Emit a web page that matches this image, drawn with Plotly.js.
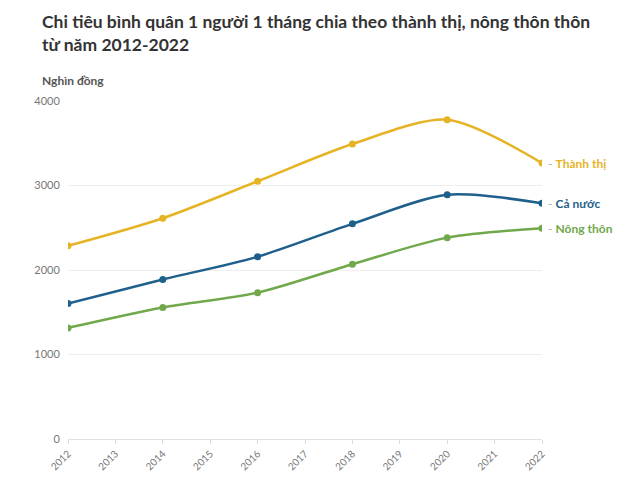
<!DOCTYPE html>
<html>
<head>
<meta charset="utf-8">
<script src="https://cdn.plot.ly/plotly-3.0.1.min.js"></script>
<style>
  body { margin: 0; background: #fff; }
  #chart { width: 642px; height: 489px; }
</style>
</head>
<body>
<div id="chart"></div>
<script>
const years = [2012, 2014, 2016, 2018, 2020, 2022];
const thanhThi = [2286, 2613, 3050, 3491, 3778, 3265];
const caNuoc = [1603, 1888, 2157, 2546, 2890, 2789];
const nongThon = [1315, 1557, 1732, 2068, 2383, 2494];
const seriesNames = ["Thành thị", "Cả nước", "Nông thôn"];
const seriesColors = ["#e6b325", "#1f5f8b", "#70a84b"];
const tickYears = [2012, 2013, 2014, 2015, 2016, 2017, 2018, 2019, 2020, 2021, 2022];

const font = "Lato, 'Noto Sans', sans-serif";
const titleFont = "'Liberation Sans Narrow', Lato, sans-serif";
const allValues = [thanhThi, caNuoc, nongThon];

// plot area runs from y=101px to y=439px, so paper units are per 338px
function paperY(px) { return (439 - px) / 338; }

let data = allValues.map(function (vals, i) {
    return {
        x: years,
        y: vals,
        name: seriesNames[i],
        type: "scatter",
        mode: "lines+markers",
        line: { color: seriesColors[i], width: 2.5, shape: "spline", smoothing: 0.8 },
        marker: { color: seriesColors[i], size: 7 },
        hoverinfo: "x+y"
    };
});

let annotations = allValues.map(function (vals, i) {
    return {
        x: years[years.length - 1],
        y: vals[vals.length - 1],
        xref: "x",
        yref: "y",
        xanchor: "left",
        yanchor: "middle",
        xshift: 4,
        showarrow: false,
        text: "<span style='color:#aaa'>-</span> <b>" + seriesNames[i] + "</b>",
        font: { family: font, size: 12, color: seriesColors[i] }
    };
});

annotations.push({
    x: -28 / 474,
    y: paperY(9),
    xref: "paper",
    yref: "paper",
    xanchor: "left",
    yanchor: "top",
    align: "left",
    showarrow: false,
    text: "<b>Chi tiêu bình quân 1 người 1 tháng chia theo thành thị, nông thôn thôn<br>từ năm 2012-2022</b>",
    font: { family: titleFont, size: 17.5, color: "#333" }
});

annotations.push({
    x: -28 / 474,
    y: paperY(80),
    xref: "paper",
    yref: "paper",
    xanchor: "left",
    yanchor: "middle",
    showarrow: false,
    text: "<b>Nghìn đồng</b>",
    font: { family: font, size: 12, color: "#555" }
});

let layout = {
    width: 642,
    height: 489,
    margin: { l: 68, r: 100, t: 101, b: 50 },
    paper_bgcolor: "#fff",
    plot_bgcolor: "#fff",
    showlegend: false,
    xaxis: {
        range: [2012, 2022],
        tickvals: tickYears,
        ticktext: tickYears.map(String),
        tickangle: -45,
        tickfont: { family: font, size: 10, color: "#777" },
        showgrid: false,
        zeroline: false,
        showline: false,
        ticks: "outside",
        ticklen: 4,
        tickcolor: "#ddd"
    },
    yaxis: {
        range: [0, 4000],
        tickvals: [0, 1000, 2000, 3000, 4000],
        tickfont: { family: font, size: 11, color: "#777" },
        showgrid: true,
        gridcolor: "#eeeeee",
        zeroline: true,
        zerolinecolor: "#e2e2e2",
        showline: false,
        ticks: "outside",
        ticklen: 5,
        tickcolor: "#fff"
    },
    annotations: annotations
};

Plotly.newPlot("chart", data, layout, { displayModeBar: false });
</script>
</body>
</html>
